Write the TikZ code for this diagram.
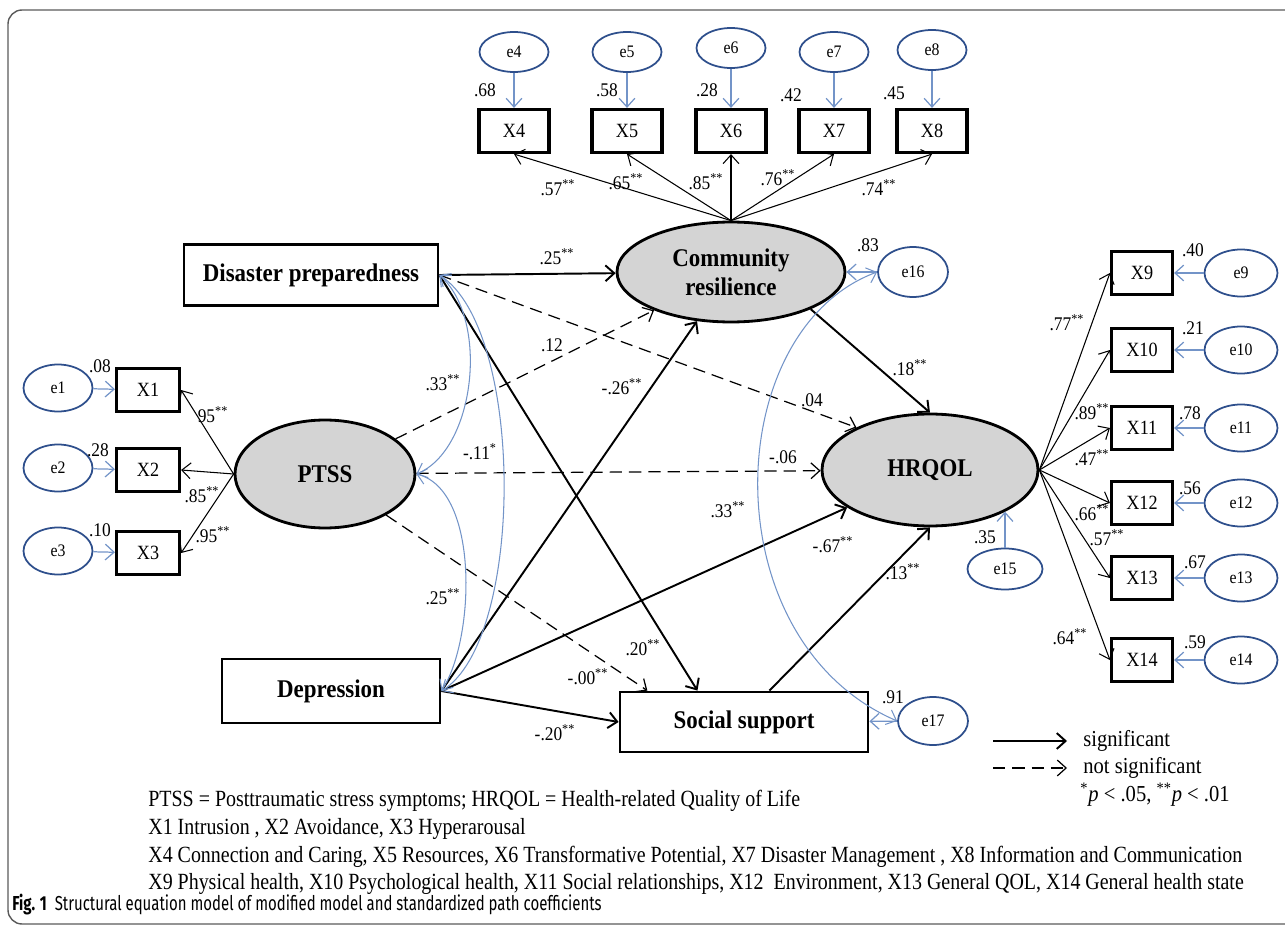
\documentclass[tikz,border=0pt]{standalone}
\usepackage{fontspec}
\setmainfont{Liberation Serif}[FakeStretch=0.9]
\newfontfamily\notefont{Liberation Serif}[FakeStretch=0.86]
\newfontfamily\capfont{Fira Sans}[FakeStretch=0.74]
\usetikzlibrary{shapes.geometric,arrows.meta}

\definecolor{errblue}{HTML}{2E4F8C}
\definecolor{covblue}{HTML}{7394C8}
\definecolor{latgray}{HTML}{D4D4D4}
\definecolor{framegray}{HTML}{5A5A5A}

\newcommand{\sgn}{\textsuperscript{**}}

\begin{document}
\begin{tikzpicture}[x=0.02cm, y=-0.02cm, >={Straight Barb[length=5pt,width=9pt]},
    latent/.style={ellipse, draw, line width=1.6pt, fill=latgray, inner sep=0pt, align=center,
      font=\fontsize{14.5}{16.5}\selectfont\bfseries},
    measured/.style={rectangle, draw, line width=1.6pt, fill=white, inner sep=0pt,
      font=\fontsize{14.5}{16.5}\selectfont\bfseries},
    indicator/.style={rectangle, draw, line width=1.8pt, fill=white, minimum width=1.26cm,
      minimum height=0.86cm, inner sep=0pt, font=\fontsize{11.5}{13}\selectfont},
    errnode/.style={ellipse, draw=errblue, line width=1pt, minimum width=1.38cm,
      minimum height=0.88cm, inner sep=0pt, font=\fontsize{10}{12}\selectfont},
    coef/.style={font=\fontsize{11}{13}\selectfont, inner sep=0pt},
    sig/.style={->, line width=1.1pt},
    nsig/.style={->, line width=0.7pt, dash pattern=on 7pt off 4pt},
    load/.style={->, line width=0.6pt},
    resid/.style={->, color=covblue, line width=0.7pt},
    covar/.style={<->, color=covblue, line width=0.6pt},
    note/.style={anchor=west, inner sep=0pt, font=\notefont\fontsize{13.2}{15}\selectfont}
]
  \useasboundingbox (0,0) rectangle (1285,929);
  \draw[framegray, line width=0.8pt, rounded corners=8pt] (1285,10) -- (8,10) -- (8,924) -- (1285,924);

  % constructs
  \node[measured, minimum width=5.08cm, minimum height=1.22cm] (dp) at (311,275) {Disaster preparedness};
  \node[latent, minimum width=3.6cm, minimum height=2.16cm] (ptss) at (325,474) {PTSS};
  \node[measured, minimum width=4.36cm, minimum height=1.28cm] (dep) at (331,691) {Depression};
  \node[latent, minimum width=4.56cm, minimum height=2cm] (cr) at (731,272) {Community\\resilience};
  \node[latent, minimum width=4.32cm, minimum height=2.24cm] (hrqol) at (930,470) {HRQOL};
  \node[measured, minimum width=4.96cm, minimum height=1.2cm] (ss) at (744,722) {Social support};

  % indicators and errors
  \foreach \i/\y in {1/390,2/470,3/553}{
    \node[indicator] (x\i) at (148,\y) {X\i};
    \node[errnode, minimum height=0.94cm] (e\i) at (58,\y-2) {e\i};
    \draw[resid] (e\i) -- (x\i);
    \draw[load] (ptss.west) -- (x\i.east);
  }
  \foreach \i/\x/\y in {4/514/52,5/627/52,6/731/48,7/834/52,8/932/50}{
    \node[indicator, minimum width=1.4cm] (x\i) at (\x,131) {X\i};
    \node[errnode, minimum height=0.8cm] (e\i) at (\x,\y) {e\i};
    \draw[resid] (e\i) -- (x\i);
    \draw[load] (cr.north) -- (x\i.south);
  }
  \foreach \i/\y in {9/273,10/350,11/428,12/503,13/578,14/660}{
    \node[indicator, minimum width=1.22cm] (x\i) at (1142,\y) {X\i};
    \node[errnode, minimum width=1.46cm, minimum height=0.94cm] (e\i) at (1241,\y) {e\i};
    \draw[resid] (e\i) -- (x\i);
    \draw[load] (hrqol.east) -- (x\i.west);
  }
  \node[errnode, minimum width=1.5cm, minimum height=0.82cm] (e15) at (1005,569) {e15};
  \node[errnode, minimum width=1.4cm, minimum height=1cm] (e16) at (913,272) {e16};
  \node[errnode, minimum width=1.4cm, minimum height=0.96cm] (e17) at (933,721) {e17};
  \draw[resid] (e15) -- (e15 |- hrqol.-29);
  \draw[resid] (e16) -- (cr);
  \draw[resid] (e17) -- (ss);

  % structural paths
  \draw[sig] (dp.east) -- (cr);
  \draw[sig] (dp.east) -- (ss.146);
  \draw[nsig] (dp.east) -- (hrqol.150);
  \draw[nsig] (ptss) -- (cr);
  \draw[nsig] (ptss) -- (hrqol);
  \draw[nsig] (ptss) -- (ss.162);
  \draw[sig] (dep.east) -- (cr);
  \draw[sig] (dep.east) -- (hrqol);
  \draw[sig] (dep.east) -- (ss.west);
  \draw[sig] (cr.-25) -- (hrqol.north);
  \draw[sig] (ss.51) -- (hrqol.south);

  % covariances
  \draw[covar] (dp.east) .. controls (490,320) and (475,450) .. (ptss.east);
  \draw[covar] (dp.east) .. controls (525,330) and (525,640) .. (dep.east);
  \draw[covar] (ptss.east) .. controls (480,490) and (475,640) .. (dep.east);
  \draw[covar] (e16.west) .. controls (720,330) and (710,640) .. (e17.west);

  % squared multiple correlations
  \foreach \n/\x/\y/\v in {r1/100/366/.08, r2/98/450/.28, r3/100/530/.10,
      r4/485/90/.68, r5/607/90/.58, r6/707/90/.28, r7/791/95/.42, r8/894/93/.45,
      r9/1193/250/.40, r10/1193/328/.21, r11/1190/413/.78, r12/1190/488/.56,
      r13/1195/562/.67, r14/1195/642/.59, r15/985/537/.35, r16/868/245/.83, r17/893/697/.91}{
    \node[coef] (\n) at (\x,\y) {\v};
  }

  % loadings
  \foreach \n/\x/\y/\v in {l1/213/415/95, l2/202/495/.85, l3/213/535/.95,
      l4/558/188/.57, l5/626/182/.65, l6/706/182/.85, l7/778/178/.76, l8/879/188/.74,
      l9/1067/323/.77, l10/1092/412/.89, l11/1092/458/.47, l12/1092/513/.66,
      l13/1107/538/.57, l14/1070/637/.64}{
    \node[coef] (\n) at (\x,\y) {\v\sgn};
  }

  % path coefficients
  \node[coef] (b-dpcr) at (557,257) {.25\sgn};
  \node[coef] (b-ptcr) at (552,345) {.12};
  \node[coef] (c-dppt) at (443,383) {.33\sgn};
  \node[coef] (b-depcr) at (622,387) {-.26\sgn};
  \node[coef] (b-dphq) at (812,400) {.04};
  \node[coef] (c-dpdep) at (480,452) {-.11\textsuperscript{*}};
  \node[coef] (b-pthq) at (783,457) {-.06};
  \node[coef] (c-e16e17) at (728,510) {.33\sgn};
  \node[coef] (b-dephq) at (833,545) {-.67\sgn};
  \node[coef] (b-crhq) at (910,368) {.18\sgn};
  \node[coef] (b-sshq) at (903,572) {.13\sgn};
  \node[coef] (c-ptdep) at (443,597) {.25\sgn};
  \node[coef] (b-dpss) at (643,648) {.20\sgn};
  \node[coef] (b-ptss) at (588,677) {-.00\sgn};
  \node[coef] (b-depss) at (555,733) {-.20\sgn};

  % legend
  \coordinate (lg-s1) at (993,741);
  \coordinate (lg-s2) at (1067,741);
  \coordinate (lg-n1) at (993,768);
  \coordinate (lg-n2) at (1067,768);
  \draw[sig] (lg-s1) -- (lg-s2);
  \draw[nsig] (lg-n1) -- (lg-n2);
  \node[note, font=\fontsize{13}{15}\selectfont] (lg-sig) at (1083,741) {significant};
  \node[note, font=\fontsize{13}{15}\selectfont] (lg-ns) at (1083,768) {not significant};
  \node[note, font=\fontsize{13}{15}\selectfont] (lg-p) at (1080,795)
    {\textsuperscript{*}\textit{p} < .05, \textsuperscript{**}\textit{p} < .01};

  % notes
  \node[note] (n1) at (148,801) {PTSS = Posttraumatic stress symptoms; HRQOL = Health-related Quality of Life};
  \node[note] (n2) at (148,829) {X1 Intrusion , X2 Avoidance, X3 Hyperarousal};
  \node[note] (n3) at (148,857) {X4 Connection and Caring, X5 Resources, X6 Transformative Potential, X7 Disaster Management , X8 Information and Communication};
  \node[note] (n4) at (148,884) {X9 Physical health, X10 Psychological health, X11 Social relationships, X12\ \ Environment, X13 General QOL, X14 General health state};
  \node[anchor=west, inner sep=0pt, font=\capfont\fontsize{11.5}{13}\selectfont] (cap) at (12,905)
    {\textbf{Fig. 1}\ \ Structural equation model of modified model and standardized path coefficients};
\end{tikzpicture}
\end{document}
